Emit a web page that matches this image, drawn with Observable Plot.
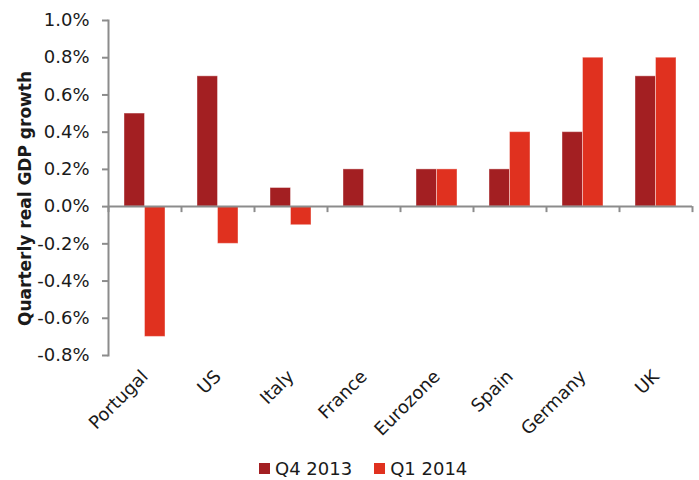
<!DOCTYPE html>
<html>
<head>
<meta charset="utf-8">
<script src="https://cdn.jsdelivr.net/npm/d3@7"></script>
<script src="https://cdn.jsdelivr.net/npm/@observablehq/plot@0.6"></script>
<style>
  html, body { margin: 0; padding: 0; background: #fff; }
  #chart { width: 699px; }
  .legend { display: flex; align-items: center; height: 32px; padding-left: 259px;
    font-family: "DejaVu Sans", sans-serif; font-size: 18px; color: #1a1a1a; }
  .legend .item { display: flex; align-items: center; margin-right: 22px; }
  .legend .sw { width: 11px; height: 11px; margin-right: 5px; }
</style>
</head>
<body>
<div id="chart"></div>
<script>
const countries = ["Portugal", "US", "Italy", "France", "Eurozone", "Spain", "Germany", "UK"];
const q4_2013 = [0.5, 0.7, 0.1, 0.2, 0.2, 0.2, 0.4, 0.7];
const q1_2014 = [-0.7, -0.2, -0.1, 0.0, 0.2, 0.4, 0.8, 0.8];
const seriesNames = ["Q4 2013", "Q1 2014"];
const seriesColors = ["#A31F22", "#E0311F"];
const yTicks = [-0.8, -0.6, -0.4, -0.2, 0.0, 0.2, 0.4, 0.6, 0.8, 1.0];
const yLabel = "Quarterly real GDP growth";

const table = countries.map((c, i) => ({country: c, q4: q4_2013[i], q1: q1_2014[i]}));
const axisGray = "#8c8c8c";

const chart = Plot.plot({
  width: 699,
  height: 452,
  marginLeft: 108,
  marginRight: 7,
  marginTop: 20,
  marginBottom: 97,
  style: {fontFamily: "DejaVu Sans, sans-serif", fontSize: "18px", color: "#1a1a1a", background: "#fff"},
  x: {type: "band", domain: countries, padding: 0, axis: null},
  y: {domain: [-0.8, 1.0], axis: null},
  marks: [
    Plot.barY(table, {x: "country", y: "q4", fill: seriesColors[0], stroke: "#fff", strokeOpacity: 0.4, strokeWidth: 1, insetLeft: 16, insetRight: 36.5}),
    Plot.barY(table, {x: "country", y: "q1", fill: seriesColors[1], stroke: "#fff", strokeOpacity: 0.4, strokeWidth: 1, insetLeft: 36.5, insetRight: 16}),
    Plot.ruleY([0], {stroke: axisGray, strokeWidth: 2}),
    Plot.ruleX(countries, {x: d => d, y1: () => 0, y2: () => 0, insetBottom: -6, dx: -36.5, stroke: axisGray, strokeWidth: 2}),
    Plot.ruleX([countries[countries.length - 1]], {x: d => d, y1: () => 0, y2: () => 0, insetBottom: -6, dx: 36.5, stroke: axisGray, strokeWidth: 2}),
    Plot.frame({anchor: "left", stroke: axisGray, strokeWidth: 2}),
    Plot.axisY({ticks: yTicks, tickFormat: d => d.toFixed(1) + "%", tickSize: 6, tickPadding: 13, stroke: axisGray, strokeWidth: 2, fill: "#1a1a1a", fontSize: 18, label: null}),
    Plot.axisX({anchor: "bottom", tickRotate: -45, tickSize: 0, tickPadding: 18, fill: "#1a1a1a", fontSize: 18, label: null}),
    Plot.text([yLabel], {text: d => d, frameAnchor: "left", textAnchor: "middle", lineAnchor: "middle", rotate: -90, dx: -83, dy: 10.5, fontWeight: "bold", fontSize: 17, fill: "#1a1a1a"})
  ]
});
document.getElementById("chart").appendChild(chart);

const legend = document.createElement("div");
legend.className = "legend";
seriesNames.forEach((name, i) => {
  const item = document.createElement("div");
  item.className = "item";
  const sw = document.createElement("span");
  sw.className = "sw";
  sw.style.background = seriesColors[i];
  const label = document.createElement("span");
  label.textContent = name;
  item.appendChild(sw);
  item.appendChild(label);
  legend.appendChild(item);
});
document.getElementById("chart").appendChild(legend);
</script>
</body>
</html>
